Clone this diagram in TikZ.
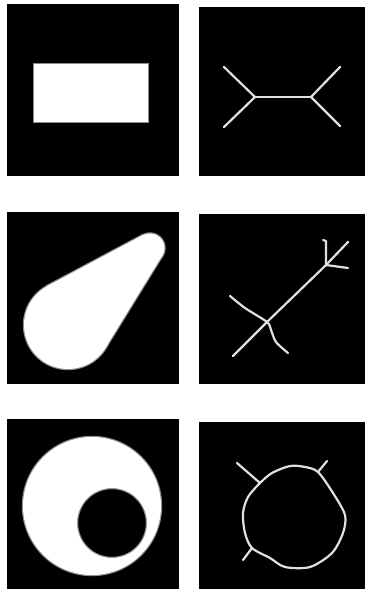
\documentclass[tikz,border=0pt]{standalone}
\usepackage{tikz}
\usetikzlibrary{calc}

\begin{document}
\begin{tikzpicture}[x=1pt, y=-1pt,
    panel/.style={fill=black},
    blobedge/.style={draw=white!55!black, line width=2.4pt},
    blob/.style={fill=white},
    skel/.style={draw=white!88!black, line width=2.2pt, line cap=round, line join=round}]
    \useasboundingbox (0,0) rectangle (365,590);

    % Panels
    \fill[panel] (7,4) rectangle (179,176);
    \fill[panel] (199,7) rectangle (365,176);
    \fill[panel] (7,212) rectangle (179,384);
    \fill[panel] (199,214) rectangle (365,384);
    \fill[panel] (7,419) rectangle (179,589);
    \fill[panel] (199,422) rectangle (365,589);

    % Row 1: rectangle and its skeleton
    \draw[blobedge] (34,64) rectangle (148,122);
    \fill[blob] (34,64) rectangle (148,122);
    \coordinate (jl) at (255,97);
    \coordinate (jr) at (311,97);
    \draw[skel] (224,67) -- (jl) -- (224,127);
    \draw[skel] (jl) -- (jr);
    \draw[skel] (340,67) -- (jr) -- (340,126);

    % Row 2: teardrop and its skeleton
    \draw[blobedge] (68,325) circle (44);
    \draw[blobedge] (150,248) circle (14.5);
    \draw[blobedge] (47.6,285.8) -- (142.8,235.1) -- (162.3,255.5) -- (105.6,347.6) -- cycle;
    \fill[blob] (68,325) circle (44);
    \fill[blob] (150,248) circle (14.5);
    \fill[blob] (47.6,285.8) -- (142.8,235.1) -- (162.3,255.5) -- (105.6,347.6) -- cycle;
    \coordinate (cross) at (267,322);
    \coordinate (fork) at (326,265);
    \draw[skel] (233,356) -- (cross) -- (fork) -- (348,242);
    \draw[skel] (fork) -- (326,241) -- (323,240);
    \draw[skel] (fork) -- (348,268);
    \draw[skel] plot[smooth] coordinates {(230,296) (245,308) (cross) (271,330) (276,342) (288,353)};

    % Row 3: ring with hole and its skeleton
    \draw[blobedge] (92,506) circle (69);
    \draw[blobedge] (112,523) circle (35);
    \fill[blob, even odd rule] (92,506) circle (69) (112,523) circle (35);
    \coordinate (ul) at (260,483);
    \coordinate (ur) at (318,472);
    \coordinate (ll) at (252,548);
    \draw[skel] plot[smooth cycle] coordinates {(ul) (272,473) (290,466) (305,467) (ur)
        (333,493) (345,515) (343,533) (332,553) (310,567) (285,567) (270,558)
        (ll) (245,533) (243,513) (248,497)};
    \draw[skel] (ul) -- (237,463);
    \draw[skel] (ur) -- (327,461);
    \draw[skel] (ll) -- (243,560);
\end{tikzpicture}
\end{document}
